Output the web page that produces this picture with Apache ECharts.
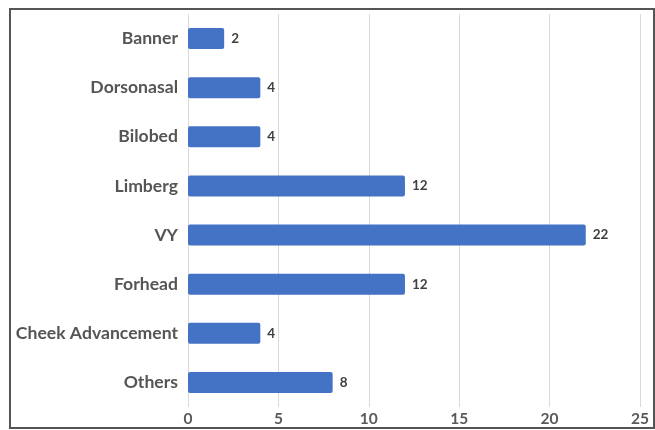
<!DOCTYPE html>
<html><head><meta charset="utf-8">
<script src="https://cdn.jsdelivr.net/npm/echarts@6/dist/echarts.min.js"></script>
<style>html,body{margin:0;padding:0;background:#fff}#c{width:655px;height:430px}
#frame{position:absolute;left:9px;top:8px;width:642px;height:417px;border:2px solid #555;box-sizing:content-box;pointer-events:none}</style>
</head><body><div id="c"></div><div id="frame"></div>
<script>
const categories = ["Banner","Dorsonasal","Bilobed","Limberg","VY","Forhead","Cheek Advancement","Others"];
const values = [2,4,4,12,22,12,4,8];
const xTicks = [0,5,10,15,20,25];

const chart = echarts.init(document.getElementById('c'), null, {renderer:'canvas'});
chart.setOption({
  animation:false,
  backgroundColor:'#fff',
  grid:{left:188,right:15,top:14,bottom:23,containLabel:false},
  xAxis:{type:'value',min:xTicks[0],max:xTicks[xTicks.length-1],interval:5,
    axisLine:{show:false},axisTick:{show:false},
    axisLabel:{color:'#595959',fontFamily:'Lato',fontWeight:'bold',fontSize:15.5,margin:4},
    splitLine:{show:true,lineStyle:{color:'#d9d9d9',width:1}}},
  yAxis:{type:'category',data:categories,inverse:true,
    axisLine:{show:false},axisTick:{show:false},
    axisLabel:{color:'#555555',fontFamily:'Lato',fontWeight:'bold',fontSize:17.6,margin:10}},
  series:[{type:'bar',data:values,barWidth:'43%',
    itemStyle:{color:'#4472C4',borderRadius:2},
    label:{show:true,position:'right',distance:7,color:'#404040',fontFamily:'Lato',fontWeight:'bold',fontSize:13.5}}]
});
</script></body></html>
